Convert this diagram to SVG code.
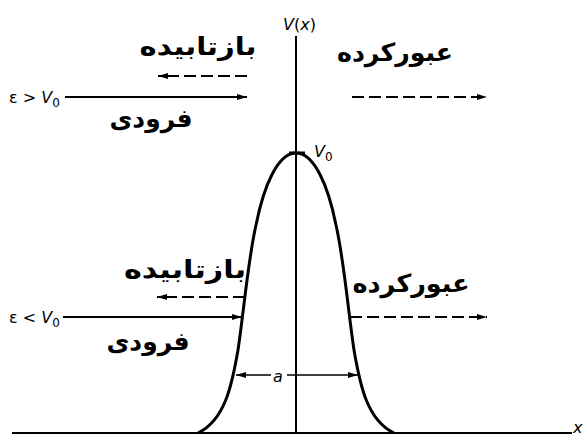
<svg xmlns="http://www.w3.org/2000/svg" width="583" height="436" viewBox="0 0 583 436">
<defs>
<marker id="ah" viewBox="0 0 10 6" refX="10" refY="3" markerWidth="10" markerHeight="6" markerUnits="userSpaceOnUse" orient="auto">
<path d="M0,0 L10,3 L0,6 Z" fill="#000"/>
</marker>
</defs>
<style>
.fa{font-family:"DejaVu Sans",sans-serif;font-weight:bold;font-size:25px;text-anchor:middle;fill:#000}
.lbl{font-family:"DejaVu Sans","Liberation Sans",sans-serif;font-size:16px;fill:#000}
.it{font-style:italic}
.sub{font-size:12px}
.ax{stroke:#000;stroke-width:2;fill:none}
.sol{stroke:#000;stroke-width:2;fill:none;marker-end:url(#ah)}
.dsh{stroke:#000;stroke-width:2;fill:none;stroke-dasharray:12 5;marker-end:url(#ah)}
.dim{stroke:#000;stroke-width:1.3;fill:none;marker-end:url(#ah)}
</style>
<rect width="583" height="436" fill="#fff"/>
<g id="axes">
<line class="ax" x1="296" y1="36" x2="296" y2="433"/>
<line class="ax" x1="12" y1="433" x2="572" y2="433" stroke-width="2.5"/>
<text class="lbl it" x="573" y="433" font-size="12">x</text>
<text class="lbl" x="283" y="30" font-size="14"><tspan class="it">V</tspan>(<tspan class="it">x</tspan>)</text>
</g>
<g id="barrier">
<path d="M198,433 C225,420 232,385 238,350 C244,310 248,260 256,225 C264,185 278,153 296,153 C314,153 328,185 336,225 C344,260 348,310 354,350 C360,385 367,420 394,433" fill="none" stroke="#000" stroke-width="3"/>
<line x1="289" y1="153" x2="305" y2="153" stroke="#000" stroke-width="3"/>
<text class="lbl" x="314" y="157"><tspan class="it">V</tspan><tspan class="sub" dy="4">0</tspan></text>
</g>
<g id="upper-case">
<text class="lbl" x="9" y="103">ε &gt; <tspan class="it">V</tspan><tspan class="sub" dy="4">0</tspan></text>
<text class="fa" x="198" y="55" textLength="117" lengthAdjust="spacingAndGlyphs">بازتابیده</text>
<text class="fa" x="151" y="127" textLength="83" lengthAdjust="spacingAndGlyphs">فرودی</text>
<text class="fa" x="395" y="61" textLength="116" lengthAdjust="spacingAndGlyphs">عبورکرده</text>
</g>
<g id="lower-case">
<text class="lbl" x="9" y="323">ε &lt; <tspan class="it">V</tspan><tspan class="sub" dy="4">0</tspan></text>
<text class="fa" x="185" y="278" textLength="122" lengthAdjust="spacingAndGlyphs">بازتابیده</text>
<text class="fa" x="148" y="350" textLength="83" lengthAdjust="spacingAndGlyphs">فرودی</text>
<text class="fa" x="411" y="292" textLength="117" lengthAdjust="spacingAndGlyphs">عبورکرده</text>
</g>
<g id="width-label">
<text class="lbl it" x="278" y="382" text-anchor="middle" font-size="15">a</text>
</g>
<g id="connectors">
<line class="sol" x1="65" y1="97" x2="247" y2="97"/>
<line class="dsh" x1="247" y1="76" x2="158" y2="76"/>
<line class="dsh" x1="352" y1="97" x2="487" y2="97"/>
<line class="sol" x1="63" y1="317" x2="242" y2="317"/>
<line class="dsh" x1="245" y1="297" x2="157" y2="297"/>
<line class="dsh" x1="350" y1="317" x2="487" y2="317"/>
<line class="dim" x1="271" y1="375" x2="236" y2="375"/>
<line class="dim" x1="287" y1="375" x2="358" y2="375"/>
</g>
</svg>
